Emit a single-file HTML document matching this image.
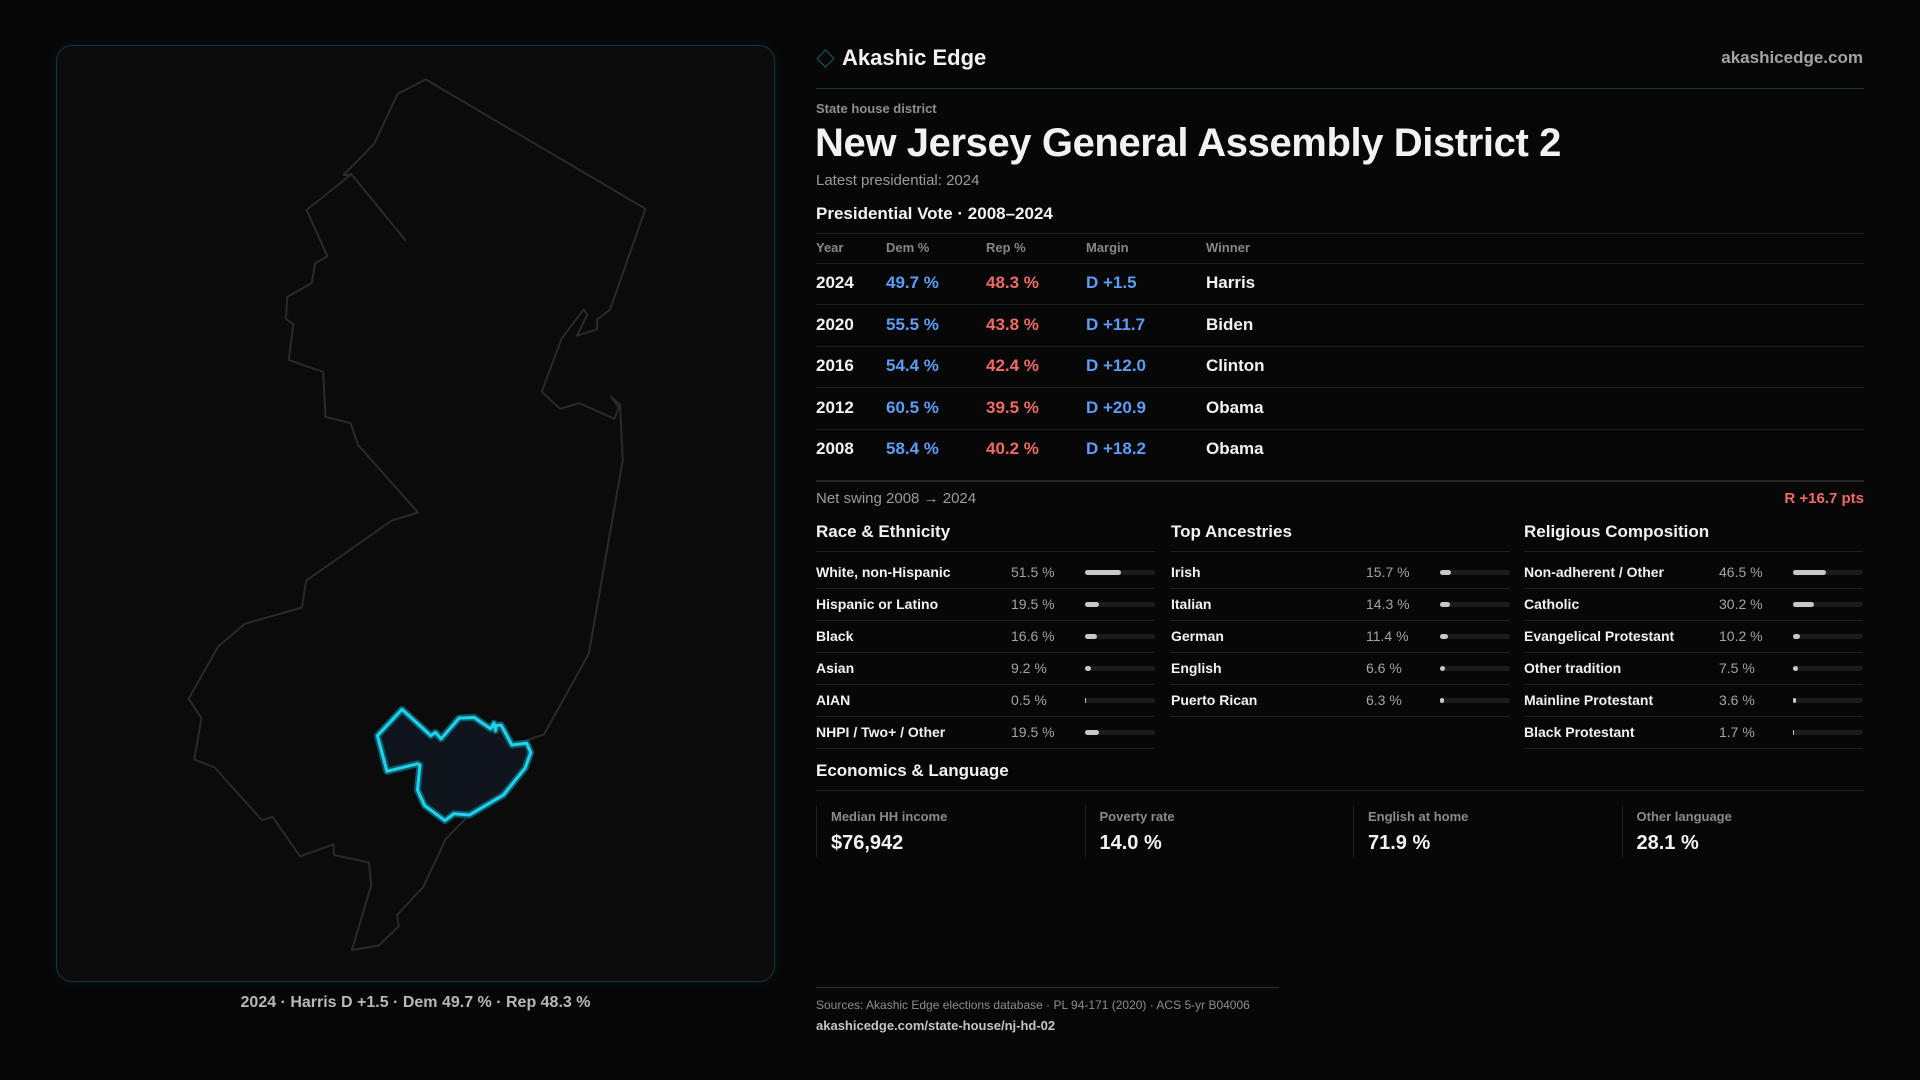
<!DOCTYPE html>
<html><head><meta charset="utf-8"><style>
*{margin:0;padding:0;box-sizing:border-box}
body{width:1920px;height:1080px;background:#070707;font-family:"Liberation Sans",sans-serif;color:#f2f2f2;position:relative;overflow:hidden}
.a{position:absolute;white-space:nowrap}
.g{color:#9a9a9a}
.hl{position:absolute;height:1px;background:#1f1f1f}
.blue{color:#5d9df5}.red{color:#f06b66}
</style></head><body>
<div class="a" style="left:56px;top:45px;width:719px;height:937px;border:1px solid #0f3942;border-radius:16px;background:#0b0b0c;box-shadow:0 0 14px rgba(0,150,180,0.08)"></div>
<svg class="a" style="left:0;top:0" width="800" height="1000" id="map"></svg>
<div class="a" style="left:56px;width:719px;top:994px;text-align:center;font-size:16px;font-weight:bold;color:#bdb7b3">2024 · Harris D +1.5 · Dem 49.7 % · Rep 48.3 %</div>

<div class="a" style="left:819px;top:52px;width:13px;height:13px;border:1.5px solid #0f5d6a;transform:rotate(45deg)"></div>
<div class="a" style="left:842px;top:45px;font-size:22px;font-weight:bold">Akashic Edge</div>
<div class="a g" style="right:57px;top:48px;font-size:17px;font-weight:bold;color:#a8a29e">akashicedge.com</div>
<div class="hl" style="left:816px;width:1048px;top:88px;background:#0f3a44"></div>
<div class="a g" style="left:816px;top:101px;font-size:13px;font-weight:bold;color:#8e8e8e">State house district</div>
<div class="a" style="left:815px;top:121px;font-size:40px;font-weight:bold;letter-spacing:-0.4px">New Jersey General Assembly District 2</div>
<div class="a g" style="left:816px;top:172px;font-size:15px;color:#a09a96">Latest presidential: 2024</div>
<div class="a" style="left:816px;top:204px;font-size:17px;font-weight:bold">Presidential Vote · 2008–2024</div>
<div class="hl" style="left:816px;width:1048px;top:233px"></div>
<div id="tbl"></div>
<div class="hl" style="left:816px;width:1048px;top:480px;height:2px;background:#262626"></div>
<div class="a" style="left:816px;top:490px;font-size:15px;color:#a09a96">Net swing 2008 → 2024</div>
<div class="a red" style="right:56px;top:490px;font-size:15px;font-weight:bold">R +16.7 pts</div>
<div id="demo"></div>
<div class="a" style="left:816px;top:761px;font-size:17px;font-weight:bold">Economics &amp; Language</div>
<div class="hl" style="left:816px;width:1048px;top:790px"></div>
<div id="stats"></div>
<div class="hl" style="left:816px;width:463px;top:987px;background:#0f3a44"></div>
<div class="a" style="left:816px;top:998px;font-size:12px;color:#8e8e8e">Sources: Akashic Edge elections database · PL 94-171 (2020) · ACS 5-yr B04006</div>
<div class="a" style="left:816px;top:1018px;font-size:13px;font-weight:bold;color:#c8c4c0">akashicedge.com/state-house/nj-hd-02</div>
<script>
const years=["2024","2020","2016","2012","2008"];
const dem=[49.7,55.5,54.4,60.5,58.4];
const rep=[48.3,43.8,42.4,39.5,40.2];
const margins=["D +1.5","D +11.7","D +12.0","D +20.9","D +18.2"];
const winners=["Harris","Biden","Clinton","Obama","Obama"];
const raceLabels=["White, non-Hispanic","Hispanic or Latino","Black","Asian","AIAN","NHPI / Two+ / Other"];
const raceVals=[51.5,19.5,16.6,9.2,0.5,19.5];
const ancLabels=["Irish","Italian","German","English","Puerto Rican"];
const ancVals=[15.7,14.3,11.4,6.6,6.3];
const relLabels=["Non-adherent / Other","Catholic","Evangelical Protestant","Other tradition","Mainline Protestant","Black Protestant"];
const relVals=[46.5,30.2,10.2,7.5,3.6,1.7];
const statLabels=["Median HH income","Poverty rate","English at home","Other language"];
const statVals=["$76,942","14.0 %","71.9 %","28.1 %"];

function mk(parent,cls,style,text,name){const d=document.createElement('div');d.className=cls;d.style.cssText=style;if(text!=null)d.textContent=text;


parent.appendChild(d);return d;}
const tbl=document.getElementById('tbl');
const hx=[816,886,986,1086,1206],hn=["Year","Dem %","Rep %","Margin","Winner"];
hn.forEach((h,i)=>mk(tbl,'a','left:'+hx[i]+'px;top:240px;font-size:13px;font-weight:bold;color:#8a8684',h,'col-header-'+h.toLowerCase().replace(/[^a-z]/g,'')));
mk(tbl,'hl','left:816px;width:1048px;top:263px',null,'header-rule');
years.forEach((y,i)=>{const cy=283+i*41.6;const t=cy-10;
const ms=margins[i];
mk(tbl,'a','left:816px;top:'+t+'px;font-size:17px;font-weight:bold',y,'year-'+y);
mk(tbl,'a blue','left:886px;top:'+t+'px;font-size:17px;font-weight:bold',dem[i].toFixed(1)+' %','dem-'+y);
mk(tbl,'a red','left:986px;top:'+t+'px;font-size:17px;font-weight:bold',rep[i].toFixed(1)+' %','rep-'+y);
mk(tbl,'a '+(ms[0]==='D'?'blue':'red'),'left:1086px;top:'+t+'px;font-size:17px;font-weight:bold',ms,'margin-'+y);
mk(tbl,'a','left:1206px;top:'+t+'px;font-size:17px;font-weight:bold',winners[i],'winner-'+y);
if(i<4)mk(tbl,'hl','left:816px;width:1048px;top:'+(cy+21)+'px',null,'row-rule');});
const demo=document.getElementById('demo');
[["Race & Ethnicity",raceLabels,raceVals,816],["Top Ancestries",ancLabels,ancVals,1171],["Religious Composition",relLabels,relVals,1524]].forEach(([t,L,V,x])=>{
const key=t.toLowerCase().replace(/[^a-z]+/g,'-');
mk(demo,'a','left:'+x+'px;top:522px;font-size:17px;font-weight:bold',t,key+'-title');
mk(demo,'hl','left:'+x+'px;width:339px;top:551px',null,key+'-rule');
L.forEach((l,i)=>{const cy=572+i*32;
mk(demo,'a','left:'+x+'px;top:'+(cy-8)+'px;font-size:14px;font-weight:bold',l,key+'-label');
mk(demo,'a','left:'+(x+195)+'px;top:'+(cy-8)+'px;font-size:14px;color:#a8a29e',V[i].toFixed(1)+' %',key+'-value');
mk(demo,'a','left:'+(x+269)+'px;top:'+(cy-2)+'px;width:70px;height:5px;border-radius:3px;background:#1c1c1c',null,key+'-bar-track');
mk(demo,'a','left:'+(x+269)+'px;top:'+(cy-2)+'px;width:'+Math.max(1,V[i]/100*70)+'px;height:5px;border-radius:3px;background:#c8c8c8',null,key+'-bar');
mk(demo,'hl','left:'+x+'px;width:339px;top:'+(cy+16)+'px',null,key+'-row-rule');});});
const st=document.getElementById('stats');
statLabels.forEach((l,i)=>{const x=816+i*268.5;
mk(st,'a','left:'+x+'px;top:806px;width:1px;height:51px;background:#1f1f1f',null,'stat-divider');
mk(st,'a','left:'+(x+15)+'px;top:809px;font-size:13px;font-weight:bold;color:#8e8a88',l,'stat-label');
mk(st,'a','left:'+(x+15)+'px;top:832px;font-size:20px;font-weight:bold',statVals[i],'stat-value');});

const sx=2.119,sy=1.6;
const P=a=>a.map(p=>(40+p[0]/sx).toFixed(1)+','+(40+p[1]/sy).toFixed(1)).join(' ');
const outline=[[817,63],[1283,270],[1208,431],[1181,447],[1180,463],[1138,473],[1160,439],[1152,431],[1105,478],[1063,563],[1102,590],[1143,581],[1217,606],[1227,588],[1210,571],[1229,583],[1235,672],[1163,982],[1068,1111],[1030,1121],[910,1240],[860,1278],[812,1355],[757,1400],[760,1418],[718,1449],[661,1456],[702,1352],[697,1316],[623,1304],[622,1287],[551,1306],[493,1243],[470,1248],[370,1164],[327,1151],[342,1085],[315,1054],[378,970],[434,934],[555,908],[564,865],[745,769],[801,756],[674,648],[658,613],[605,603],[600,531],[527,512],[537,455],[521,446],[524,411],[576,389],[583,357],[609,346],[565,272],[658,216],[643,216],[708,166],[758,86]];
const dist=[[767,1071],[828,1113],[838,1108],[850,1118],[888,1085],[920,1084],[955,1102],[962,1093],[965,1105],[966,1097],[977,1096],[1000,1128],[1031,1125],[1040,1140],[1028,1165],[982,1208],[910,1240],[877,1238],[858,1249],[815,1225],[800,1200],[805,1160],[800,1158],[735,1170],[715,1113]];
const ns='http://www.w3.org/2000/svg',svg=document.getElementById('map');
function sh(tag,attrs,name){const e=document.createElementNS(ns,tag);for(const k in attrs)e.setAttribute(k,attrs[k]);


svg.appendChild(e);return e;}
sh('polygon',{points:P(outline),fill:'none',stroke:'#2a2a2a','stroke-width':2,'stroke-linejoin':'round'},'state-outline');
sh('polyline',{points:P([[658,213],[775,321]]),fill:'none',stroke:'#2a2a2a','stroke-width':2},'state-inner-line');
sh('polygon',{points:P(dist),fill:'#0f141d',stroke:'#0a5a68','stroke-width':7,'stroke-linejoin':'round'},'district-glow');
const d=sh('polygon',{points:P(dist),fill:'none',stroke:'#22d3ee','stroke-width':3,'stroke-linejoin':'round'},'district-2');

</script>
</body></html>
